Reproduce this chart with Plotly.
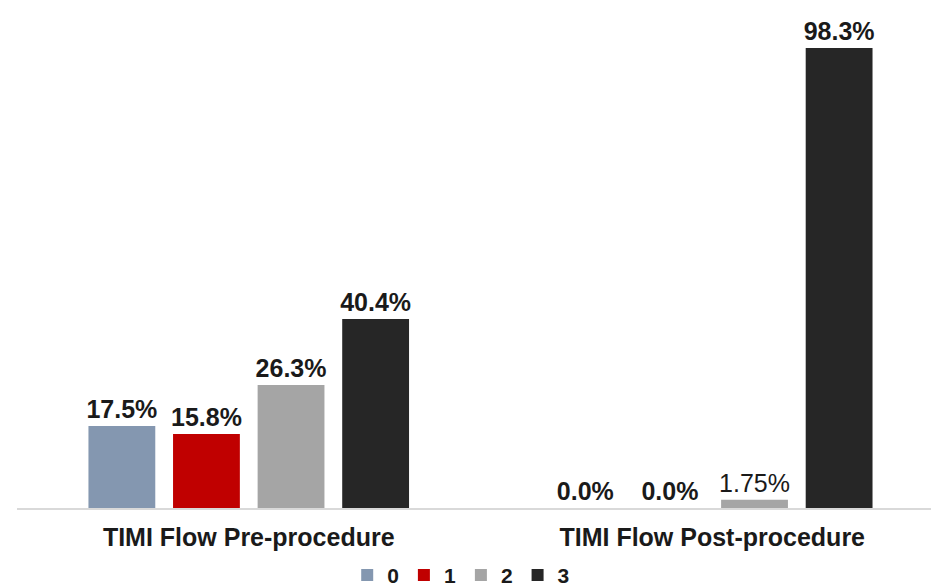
import plotly.graph_objects as go

categories = ["TIMI Flow Pre-procedure", "TIMI Flow Post-procedure"]
series_names = ["0", "1", "2", "3"]
values = {
    "0": [17.5, 0.0],
    "1": [15.8, 0.0],
    "2": [26.3, 1.75],
    "3": [40.4, 98.3],
}
labels = {
    "0": ["<b>17.5%</b>", "<b>0.0%</b>"],
    "1": ["<b>15.8%</b>", "<b>0.0%</b>"],
    "2": ["<b>26.3%</b>", "1.75%"],
    "3": ["<b>40.4%</b>", "<b>98.3%</b>"],
}
colors = {"0": "#8497B0", "1": "#C00000", "2": "#A5A5A5", "3": "#262626"}

FONT = "Liberation Sans, Arial, sans-serif"

fig = go.Figure()
for s in series_names:
    fig.add_trace(go.Bar(
        name=s,
        x=categories,
        y=values[s],
        text=labels[s],
        textposition="outside",
        constraintext="none",
        textfont=dict(family=FONT, size=25, color="#1a1a1a"),
        marker=dict(color=colors[s], line=dict(width=0)),
        cliponaxis=False,
    ))

fig.update_layout(
    width=931, height=588,
    margin=dict(l=17, r=0, t=20, b=80, autoexpand=False),
    paper_bgcolor="white", plot_bgcolor="white",
    barmode="group", bargap=0.27, bargroupgap=0.21,
    font=dict(family=FONT, color="#1a1a1a"),
    showlegend=True,
    legend=dict(
        orientation="h", x=0.486, xanchor="center", y=-0.138, yanchor="middle",
        font=dict(family=FONT, size=21, color="#1a1a1a", weight="bold"),
        itemwidth=30, traceorder="normal",
    ),
    xaxis=dict(
        type="category", range=[-0.5, 1.472],
        showline=True, linecolor="#D9D9D9", linewidth=1.5,
        ticks="", showgrid=False, zeroline=False,
        tickfont=dict(family=FONT, size=25, color="#1a1a1a", weight="bold"),
        ticklabelstandoff=6,
    ),
    yaxis=dict(
        range=[0, 104.3], visible=False, showgrid=False, zeroline=False,
    ),
)

fig.write_html(
    "out.html",
    config={"displayModeBar": False},
    post_script="document.body.style.margin='0';",
)
